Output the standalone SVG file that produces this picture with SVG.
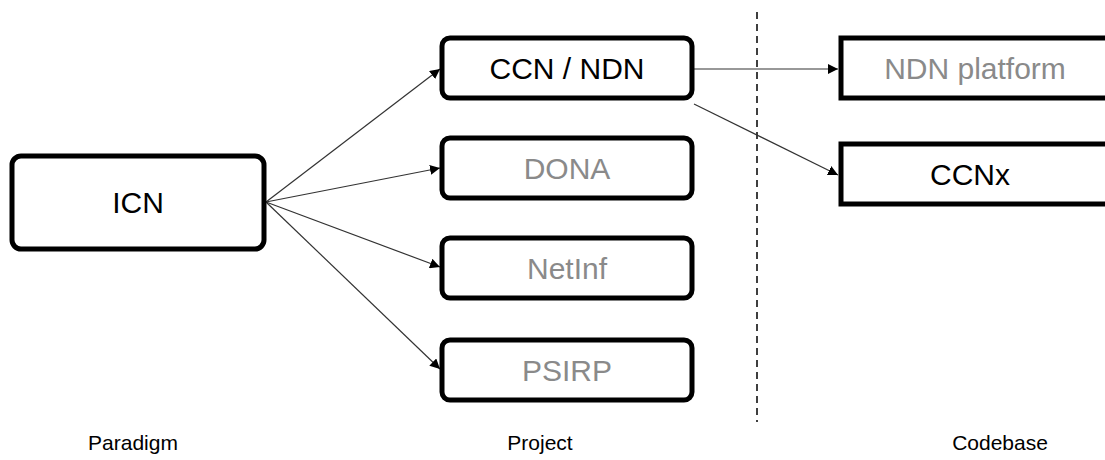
<svg xmlns="http://www.w3.org/2000/svg" width="1105" height="460" viewBox="0 0 1105 460">
<style>
.box{fill:#fff;stroke:#000;stroke-width:5}
.t{font-family:"Liberation Sans",Arial,sans-serif;font-size:30px;text-anchor:middle;dominant-baseline:central}
.g{fill:#8a8a8a}
.k{fill:#000}
.lbl{font-family:"Liberation Sans",Arial,sans-serif;font-size:21px;text-anchor:middle;fill:#000}
.c{stroke:#333;stroke-width:1.2;fill:none;marker-end:url(#ah)}
</style>
<defs>
<marker id="ah" viewBox="0 0 10 10" refX="10" refY="5" markerWidth="10" markerHeight="10" markerUnits="userSpaceOnUse" orient="auto">
<path d="M0,0 L10,5 L0,10 z" fill="#000"/>
</marker>
</defs>
<line x1="757" y1="12" x2="757" y2="422" stroke="#000" stroke-width="1.5" stroke-dasharray="7,5"/>
<g id="connectors">
<line class="c" x1="266" y1="202" x2="440" y2="69"/>
<line class="c" x1="266" y1="202" x2="440" y2="168"/>
<line class="c" x1="266" y1="202" x2="440" y2="267"/>
<line class="c" x1="266" y1="202" x2="440" y2="369"/>
<line class="c" x1="694" y1="69" x2="838" y2="69"/>
<line class="c" x1="694" y1="104" x2="838" y2="175"/>
</g>
<g id="icn"><rect class="box" x="12" y="156" width="252" height="93" rx="9"/><text class="t k" x="138" y="202">ICN</text></g>
<g id="ccnndn"><rect class="box" x="442" y="38" width="250" height="60" rx="8"/><text class="t k" x="567" y="68">CCN / NDN</text></g>
<g id="dona"><rect class="box" x="442" y="138" width="250" height="60" rx="8"/><text class="t g" x="567" y="168">DONA</text></g>
<g id="netinf"><rect class="box" x="442" y="238" width="250" height="60" rx="8"/><text class="t g" x="567" y="268">NetInf</text></g>
<g id="psirp"><rect class="box" x="442" y="340" width="250" height="60" rx="8"/><text class="t g" x="567" y="370">PSIRP</text></g>
<g id="ndnplatform"><rect class="box" x="841" y="38" width="280" height="60"/><text class="t g" x="975" y="68">NDN platform</text></g>
<g id="ccnx"><rect class="box" x="841" y="144" width="280" height="60"/><text class="t k" x="970" y="174">CCNx</text></g>
<g id="labels">
<text class="lbl" x="133" y="450">Paradigm</text>
<text class="lbl" x="540" y="450">Project</text>
<text class="lbl" x="1000" y="450">Codebase</text>
</g>
</svg>
